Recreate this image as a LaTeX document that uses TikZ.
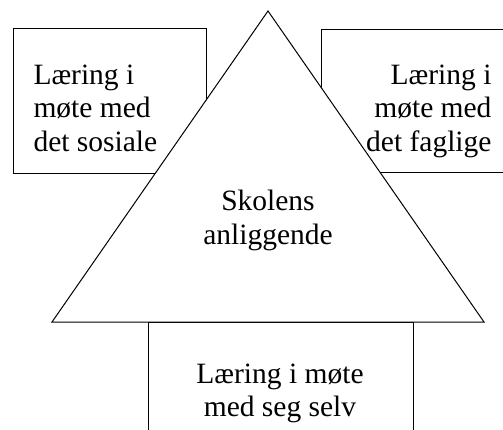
\documentclass[tikz,border=0pt]{standalone}
\usepackage{fontspec}
\setmainfont{Liberation Serif}
\usepackage{tikz}

\begin{document}
\begin{tikzpicture}[x=1pt, y=-1pt, line width=1pt,
  tekst/.style={font=\fontsize{29.5}{33.5}\selectfont, inner sep=0pt}]
\useasboundingbox (0,0) rectangle (503,430);
\clip (0,0) rectangle (503,430);

\draw[fill=white] (13,29) rectangle (206,174);
\draw[fill=white] (321,30) rectangle (520,173);
\draw[fill=white] (148,322) rectangle (413,450);

\draw[fill=white] (268,11)--(484,322)--(52,322)--cycle;

\node[tekst, anchor=north west, align=left] (sosiale) at (33,64) {Læring i\\møte med\\det sosiale};
\node[tekst, anchor=north east, align=right] (faglige) at (492,64) {Læring i\\møte med\\det faglige};
\node[tekst, anchor=north, align=center] (skolen) at (268,190) {Skolens\\anliggende};
\node[tekst, anchor=north, align=center] (selv) at (280,363) {Læring i møte\\med seg selv};
\end{tikzpicture}
\end{document}
